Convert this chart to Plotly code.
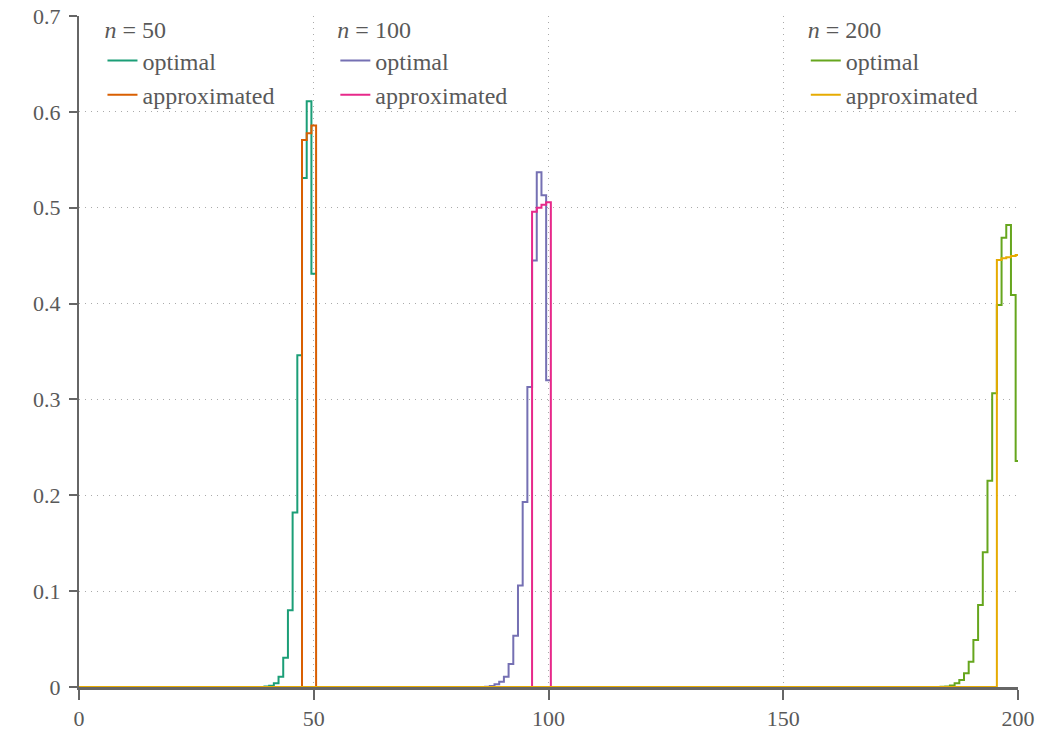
import plotly.graph_objects as go

# ---- data (value per integer k, drawn as centred steps) ----
opt50_k0 = 40
opt50 = [0.0004, 0.0014, 0.0038, 0.0107, 0.0306, 0.080, 0.182, 0.346, 0.531, 0.611, 0.431]
app50_k0 = 48
app50 = [0.5706, 0.5778, 0.5858]

opt100_k0 = 87
opt100 = [0.0003, 0.0010, 0.0028, 0.0055, 0.0107, 0.0240, 0.0535, 0.106, 0.193, 0.313,
          0.445, 0.537, 0.513, 0.320]
app100_k0 = 97
app100 = [0.4958, 0.5000, 0.5030, 0.5056]

opt200_k0 = 184
opt200 = [0.0002, 0.0005, 0.0015, 0.0038, 0.0073, 0.0143, 0.0264, 0.049, 0.0855, 0.1405,
          0.2152, 0.3064, 0.3985, 0.4687, 0.482, 0.409, 0.2357]
app200_k0 = 196
app200 = [0.4454, 0.4472, 0.4483, 0.4496, 0.4507]

x_ticks = [0, 50, 100, 150, 200]
y_ticks = [0, 0.1, 0.2, 0.3, 0.4, 0.5, 0.6, 0.7]
y_tick_text = ["0", "0.1", "0.2", "0.3", "0.4", "0.5", "0.6", "0.7"]

colors = {
    "opt50": "#1b9e77", "app50": "#d95f02",
    "opt100": "#7570b3", "app100": "#e7298a",
    "opt200": "#66a61e", "app200": "#e6ab02",
}


def steps(k0, vals, drop):
    xs = [0] + [k0 - 0.5 + i for i in range(len(vals))] + [k0 - 0.5 + len(vals)]
    ys = [0] + list(vals) + [0 if drop else vals[-1]]
    return xs, ys


FONT = "Liberation Serif"
TXT = "#595959"

fig = go.Figure()
series = [
    ("opt50", opt50_k0, opt50, False, "optimal", "legend"),
    ("app50", app50_k0, app50, True, "approximated", "legend"),
    ("opt100", opt100_k0, opt100, False, "optimal", "legend2"),
    ("app100", app100_k0, app100, True, "approximated", "legend2"),
    ("opt200", opt200_k0, opt200, False, "optimal", "legend3"),
    ("app200", app200_k0, app200, True, "approximated", "legend3"),
]
for key, k0, vals, drop, name, leg in series:
    xs, ys = steps(k0, vals, drop)
    fig.add_trace(go.Scatter(
        x=xs, y=ys, mode="lines", name=name, legend=leg,
        line=dict(color=colors[key], width=2, shape="hv"),
        hoverinfo="skip",
    ))

leg_common = dict(
    yanchor="top", xanchor="left", y=1.013,
    bgcolor="rgba(0,0,0,0)", borderwidth=0,
    font=dict(family=FONT, size=24, color=TXT),
    title=dict(side="top", font=dict(family=FONT, size=24, color=TXT)),
    tracegroupgap=0, itemwidth=30,
)

fig.update_layout(
    width=1050, height=738,
    margin=dict(l=79, r=32, t=16, b=51, autoexpand=False),
    paper_bgcolor="white", plot_bgcolor="white",
    font=dict(family=FONT, size=22, color=TXT),
    showlegend=True,
    legend=dict(leg_common, x=0.025, title=dict(leg_common["title"], text="<i>n</i> = 50")),
    legend2=dict(leg_common, x=0.273, title=dict(leg_common["title"], text="<i>n</i> = 100")),
    legend3=dict(leg_common, x=0.774, title=dict(leg_common["title"], text="<i>n</i> = 200")),
    xaxis=dict(
        range=[0, 200], tickvals=x_ticks, ticktext=[str(v) for v in x_ticks],
        showline=True, linecolor="#666666", linewidth=3,
        ticks="outside", ticklen=10, tickwidth=2, tickcolor="#666666",
        showgrid=True, gridcolor="#aaaaaa", gridwidth=1, griddash="1px,5px",
        zeroline=False, automargin=False, ticklabelstandoff=0,
        tickfont=dict(family=FONT, size=22, color=TXT),
    ),
    yaxis=dict(
        range=[0, 0.7], tickvals=y_ticks, ticktext=y_tick_text,
        showline=True, linecolor="#666666", linewidth=2,
        ticks="outside", ticklen=8, tickwidth=2, tickcolor="#666666",
        showgrid=True, gridcolor="#aaaaaa", gridwidth=1, griddash="1px,5px",
        zeroline=False, automargin=False, ticklabelstandoff=4,
        tickfont=dict(family=FONT, size=22, color=TXT),
    ),
)

# remove the default 8px page margin so the figure sits at the window's corner
fig.write_html("out.html", config={"displayModeBar": False},
               post_script="document.body.style.margin='0';")
